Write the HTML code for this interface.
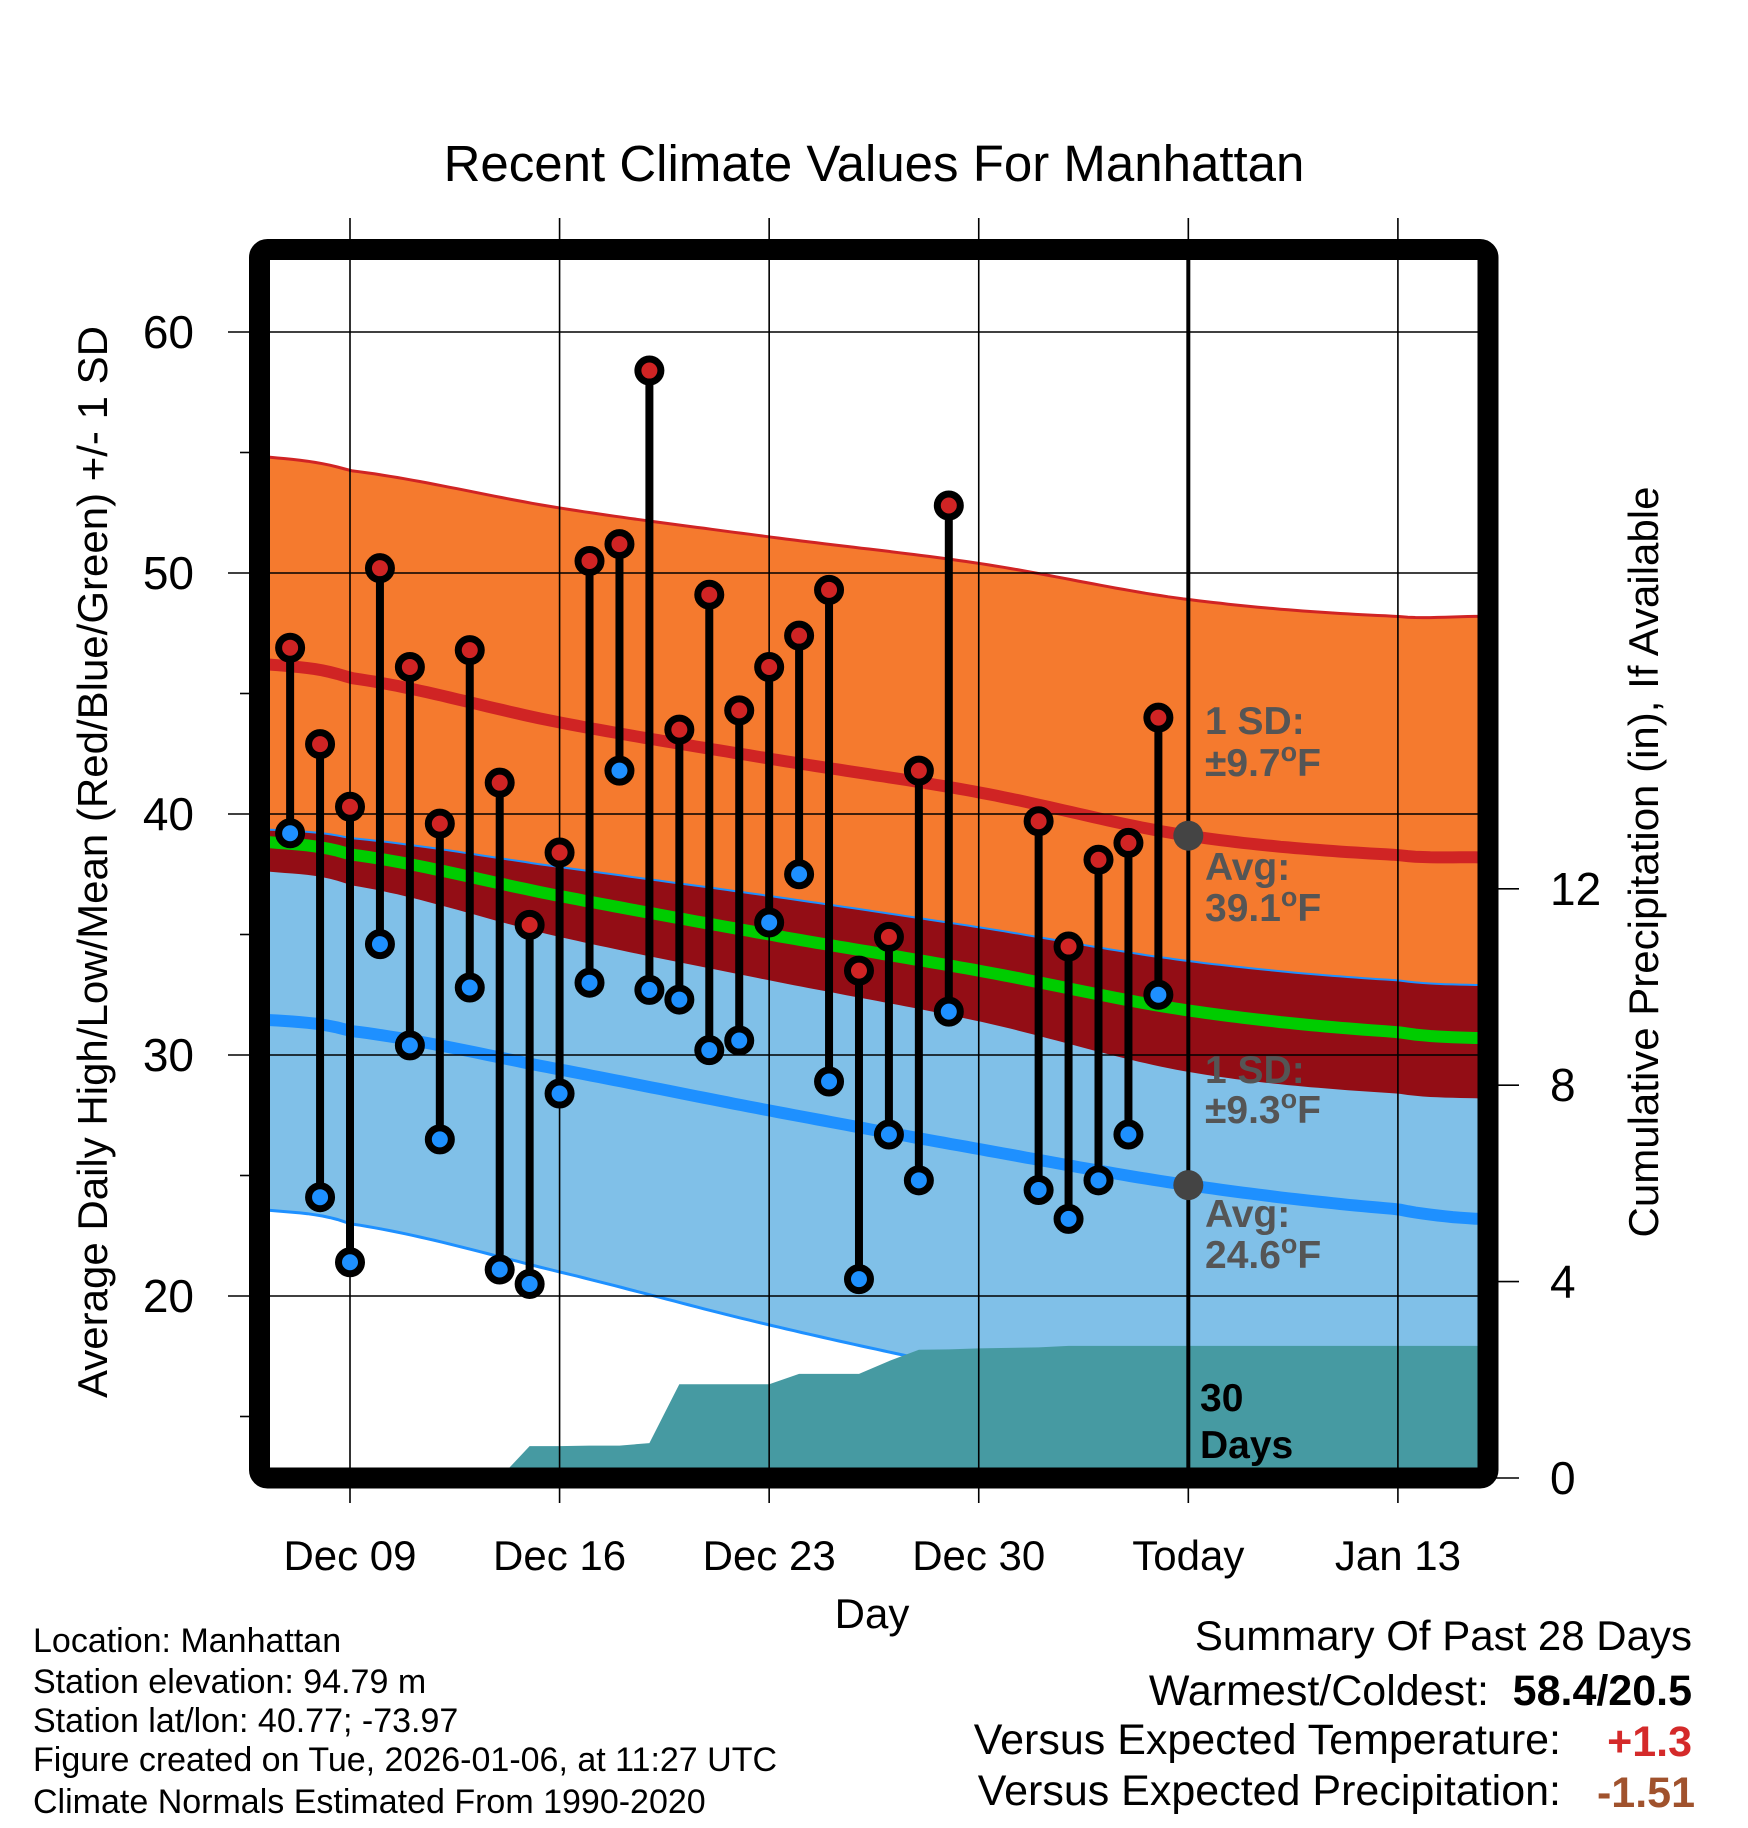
<!DOCTYPE html>
<html><head><meta charset="utf-8"><style>
html,body{margin:0;padding:0;background:#fff}
svg{display:block;font-family:"Liberation Sans",sans-serif}
</style></head><body>
<svg id="chart" width="1748" height="1828" viewBox="0 0 1748 1828" xmlns="http://www.w3.org/2000/svg">
<rect width="1748" height="1828" fill="#fff"/>
<text x="874" y="181" font-size="51" text-anchor="middle">Recent Climate Values For Manhattan</text>
<defs><clipPath id="plotclip"><rect x="270" y="260" width="1208" height="1208"/></clipPath></defs>
<g id="bands" clip-path="url(#plotclip)"></g>
<g id="grid"></g>
<g id="series" clip-path="url(#plotclip)"></g>
<g id="axes"></g>
<text transform="translate(107,862) rotate(-90)" font-size="42" text-anchor="middle">Average Daily High/Low/Mean (Red/Blue/Green) +/- 1 SD</text>
<text transform="translate(1658,862) rotate(-90)" font-size="42" text-anchor="middle">Cumulative Precipitation (in), If Available</text>
<text x="872" y="1628" font-size="42" text-anchor="middle">Day</text>
<g font-size="34">
<text x="33" y="1652">Location: Manhattan</text>
<text x="33" y="1693">Station elevation: 94.79 m</text>
<text x="33" y="1732">Station lat/lon: 40.77; -73.97</text>
<text x="33" y="1771">Figure created on Tue, 2026-01-06, at 11:27 UTC</text>
<text x="33" y="1813">Climate Normals Estimated From 1990-2020</text>
</g>
<g font-size="43">
<text x="1692" y="1650" text-anchor="end" font-size="42">Summary Of Past 28 Days</text>
<text x="1489" y="1705" text-anchor="end">Warmest/Coldest:</text>
<text x="1692" y="1705" text-anchor="end" font-weight="bold">58.4/20.5</text>
<text x="1561" y="1754" text-anchor="end">Versus Expected Temperature:</text>
<text x="1692" y="1756" text-anchor="end" font-weight="bold" fill="#d42a2a">+1.3</text>
<text x="1561" y="1805" text-anchor="end">Versus Expected Precipitation:</text>
<text x="1695" y="1807" text-anchor="end" font-weight="bold" fill="#a0522d">-1.51</text>
</g>
</svg>
<script>
// ---- data ----
const normDays = [-2.67, 0, 7, 14, 21, 28, 35, 37.67]; // days relative to Dec 09
const normHigh = [46.2, 45.65, 43.8, 42.3, 40.9, 39.1, 38.3, 38.2];
const normHighSD = [8.6, 8.6, 8.9, 9.2, 9.5, 9.8, 9.9, 10.0];
const normLow = [31.45, 31.0, 29.4, 27.7, 26.1, 24.6, 23.6, 23.2];
const normLowSD = [7.9, 8.0, 8.4, 8.9, 9.2, 9.3, 9.5, 9.7];
const obsDays = [-2,-1,0,1,2,3,4,5,6,7,8,9,10,11,12,13,14,15,16,17,18,19,20,23,24,25,26,27];
const obsHigh = [46.9,42.9,40.3,50.2,46.1,39.6,46.8,41.3,35.4,38.4,50.5,51.2,58.4,43.5,49.1,44.3,46.1,47.4,49.3,33.5,34.9,41.8,52.8,39.7,34.5,38.1,38.8,44.0];
const obsLow = [39.2,24.1,21.4,34.6,30.4,26.5,32.8,21.1,20.5,28.4,33.0,41.8,32.7,32.3,30.2,30.6,35.5,37.5,28.9,20.7,26.7,24.8,31.8,24.4,23.2,24.8,26.7,32.5];
const precipDays = [-2,-1,0,1,2,3,4,5,6,7,8,9,10,11,12,13,14,15,16,17,18,19,20,21,22,23,24,25,26,27,37.67];
const precipCum = [0,0,0,0,0,0,0,0,0.65,0.65,0.66,0.66,0.71,1.91,1.91,1.91,1.91,2.12,2.12,2.12,2.38,2.61,2.62,2.64,2.65,2.66,2.69,2.69,2.69,2.69,2.69];
const xTickDays = [0,7,14,21,28,35];
const xTickLabels = ["Dec 09","Dec 16","Dec 23","Dec 30","Today","Jan 13"];
const yTicks = [20,30,40,50,60];
const y2Ticks = [0,4,8,12];
const todayDay = 28;
const todayHigh = 39.1, todayLow = 24.6;

// ---- scales ----
const NS="http://www.w3.org/2000/svg";
const X = d => 350 + d*29.94;
const Y = t => 332 + (60-t)*24.1;
const Y2 = p => 1478 - p*49.1;
function interp(arr, d){
  // Catmull-Rom style smooth interpolation through knots
  const n=normDays.length;
  let i=0;
  while(i<n-2 && d>normDays[i+1]) i++;
  const t=Math.max(0,Math.min(1,(d-normDays[i])/(normDays[i+1]-normDays[i])));
  const p0=arr[Math.max(0,i-1)], p1=arr[i], p2=arr[i+1], p3=arr[Math.min(n-1,i+2)];
  const m1=(p2-p0)/2, m2=(p3-p1)/2;
  const t2=t*t,t3=t2*t;
  return (2*t3-3*t2+1)*p1+(t3-2*t2+t)*m1+(-2*t3+3*t2)*p2+(t3-t2)*m2;
}
function mk(tag, attrs, parent){const e=document.createElementNS(NS,tag);for(const k in attrs)e.setAttribute(k,attrs[k]);parent.appendChild(e);return e;}
const bands=document.getElementById('bands'), grid=document.getElementById('grid'), series=document.getElementById('series'), axes=document.getElementById('axes');
const dStart=normDays[0]-0.5, dEnd=normDays[normDays.length-1]+0.5;
const samp=[];for(let d=dStart;d<dEnd;d+=0.25)samp.push(d);samp.push(dEnd);
const line = f => samp.map(d=>X(d).toFixed(1)+','+Y(f(d)).toFixed(1)).join(' ');
const bandPts=(fa,fb)=>samp.map(d=>X(d).toFixed(1)+','+Y(fa(d)).toFixed(1)).join(' ')+' '+samp.slice().reverse().map(d=>X(d).toFixed(1)+','+Y(fb(d)).toFixed(1)).join(' ');
const cl=d=>Math.max(normDays[0],Math.min(normDays[normDays.length-1],d));
const hi=d=>interp(normHigh,cl(d)), hsd=d=>interp(normHighSD,cl(d)), lo=d=>interp(normLow,cl(d)), lsd=d=>interp(normLowSD,cl(d));

let e;
e=mk('polygon',{points:bandPts(d=>hi(d)+hsd(d),d=>hi(d)-hsd(d)),fill:'#f57a2e'},bands);


e=mk('polygon',{points:bandPts(d=>lo(d)+lsd(d),d=>lo(d)-lsd(d)),fill:'#80c0e8'},bands);


e=mk('polygon',{points:bandPts(d=>Math.max(lo(d)+lsd(d),hi(d)-hsd(d)),d=>hi(d)-hsd(d)),fill:'#930d15'},bands);


let pp=precipDays.map((d,i)=>X(d).toFixed(1)+','+Y2(precipCum[i]).toFixed(1)).join(' ');
pp+=' '+(X(precipDays[precipDays.length-1])+20).toFixed(1)+','+Y2(precipCum[precipCum.length-1]).toFixed(1);
pp+=' '+(X(precipDays[precipDays.length-1])+20).toFixed(1)+',1480 '+X(precipDays[0]).toFixed(1)+',1480';
e=mk('polyline',{points:line(d=>hi(d)+hsd(d)),fill:'none',stroke:'#d02424','stroke-width':3},bands);


e=mk('polyline',{points:line(d=>lo(d)+lsd(d)),fill:'none',stroke:'#1e90ff','stroke-width':2},bands);


e=mk('polyline',{points:line(d=>lo(d)-lsd(d)),fill:'none',stroke:'#1e90ff','stroke-width':3},bands);


e=mk('polygon',{points:pp,fill:'#469aa2'},bands);


e=mk('polyline',{points:line(d=>(hi(d)+lo(d))/2),fill:'none',stroke:'#00cc00','stroke-width':12},bands);


e=mk('polyline',{points:line(hi),fill:'none',stroke:'#d02424','stroke-width':12},bands);


e=mk('polyline',{points:line(lo),fill:'none',stroke:'#1e90ff','stroke-width':12},bands);



// grid
yTicks.forEach(t=>{
  e=mk('line',{x1:228,x2:1478,y1:Y(t),y2:Y(t),stroke:'#000','stroke-width':1.6},grid);
  
  
  e=mk('text',{x:194,y:Y(t)+16,'font-size':46,'text-anchor':'end'},axes);
  e.textContent=t;
  
  
});
for(let t=15;t<=60;t+=10){
  e=mk('line',{x1:240,x2:254,y1:Y(t),y2:Y(t),stroke:'#000','stroke-width':1.6},grid);
  
  
}
xTickDays.forEach((d,i)=>{
  e=mk('line',{x1:X(d),x2:X(d),y1:218,y2:1503,stroke:'#000','stroke-width':1.6},grid);
  
  
  e=mk('text',{x:X(d),y:1570,'font-size':42,'text-anchor':'middle'},axes);
  e.textContent=xTickLabels[i];
  
  
});
y2Ticks.forEach(p=>{
  e=mk('line',{x1:1488,x2:1519,y1:Y2(p),y2:Y2(p),stroke:'#000','stroke-width':1.6},axes);
  
  
  e=mk('text',{x:1550,y:Y2(p)+16,'font-size':46},axes);
  e.textContent=p;
  
  
});

// observations
obsDays.forEach((d,i)=>{
  e=mk('line',{x1:X(d),x2:X(d),y1:Y(obsHigh[i]),y2:Y(obsLow[i]),stroke:'#000','stroke-width':8},series);
  
  
});
obsDays.forEach((d,i)=>{
  e=mk('circle',{cx:X(d),cy:Y(obsHigh[i]),r:11.5,fill:'#d02424',stroke:'#000','stroke-width':7},series);
  
  
  e=mk('circle',{cx:X(d),cy:Y(obsLow[i]),r:11.5,fill:'#1e90ff',stroke:'#000','stroke-width':7},series);
  
  
});
e=mk('line',{x1:X(todayDay),x2:X(todayDay),y1:260,y2:1468,stroke:'#000','stroke-width':4},series);


[todayHigh,todayLow].forEach(v=>{
  e=mk('circle',{cx:X(todayDay),cy:Y(v),r:15,fill:'#444'},series);
  
  
});
const ann=[["1 SD:",734],["±9.7","F",776],["Avg:",880],["39.1","F",921],["1 SD:",1083],["±9.3","F",1123],["Avg:",1227],["24.6","F",1268]];
ann.forEach(a=>{
  const t=mk('text',{x:1205,y:a[a.length-1],'font-size':39,'font-weight':'bold',fill:'#555'},series);
  
  
  if(a.length===2){t.textContent=a[0];}
  else{t.appendChild(document.createTextNode(a[0]));const s=mk('tspan',{dy:-15,'font-size':27},t);s.textContent='o';const f=mk('tspan',{dy:15},t);f.textContent=a[1];}
});
e=mk('text',{x:1200,y:1411,'font-size':39,'font-weight':'bold'},series);
e.textContent='30';


e=mk('text',{x:1200,y:1458,'font-size':39,'font-weight':'bold'},series);
e.textContent='Days';


e=mk('rect',{x:259.5,y:249.5,width:1228.5,height:1228.5,rx:8,fill:'none',stroke:'#000','stroke-width':21},axes);


</script>
</body></html>
